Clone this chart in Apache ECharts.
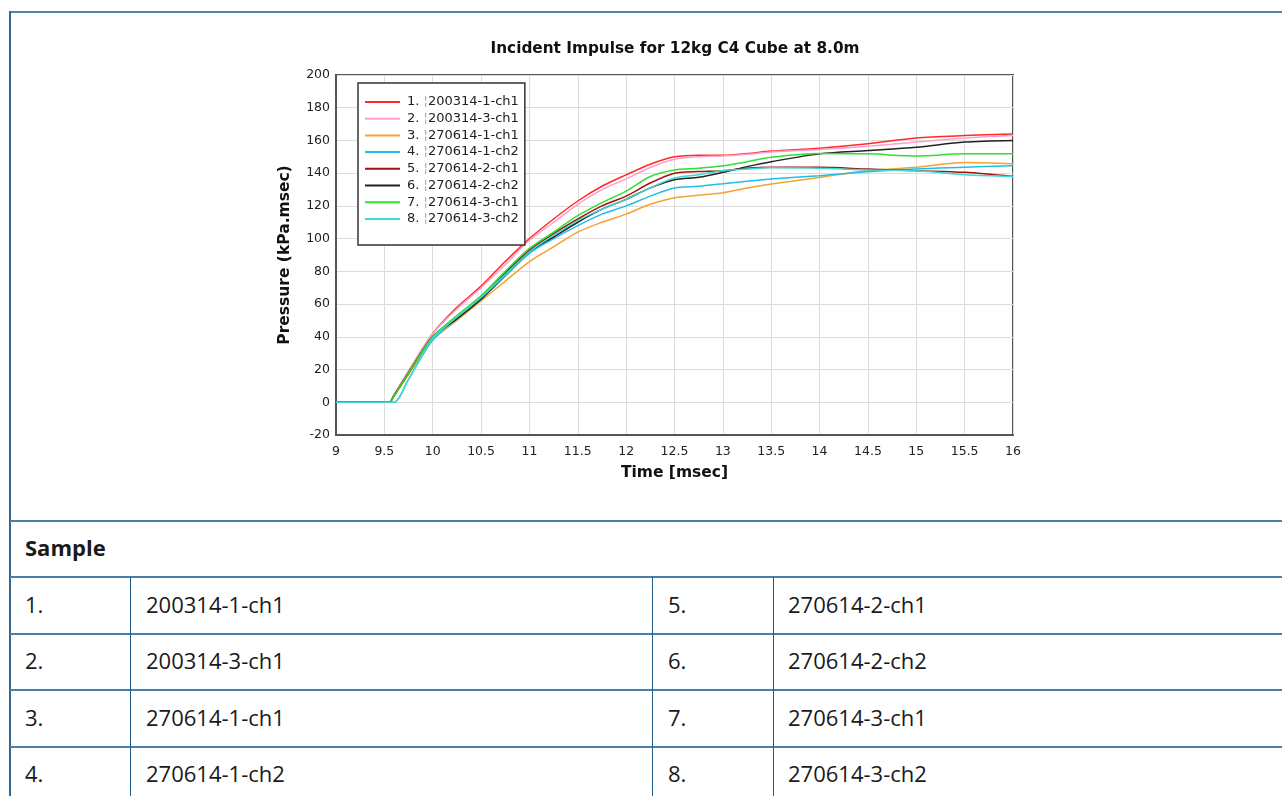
<!DOCTYPE html>
<html>
<head>
<meta charset="utf-8">
<script src="https://cdn.jsdelivr.net/npm/echarts@6/dist/echarts.min.js"></script>
<style>
  html, body { margin: 0; padding: 0; background: #fff; width: 1282px; height: 796px; overflow: hidden; }
  #chart { position: absolute; left: 0; top: 0; width: 1282px; height: 520px; }
  .hl { position: absolute; left: 10px; right: 0; height: 2px; background: #4a7fa3; }
  .vl { position: absolute; width: 1px; background: #1f5b8a; }
  .txt { position: absolute; font-family: "Open Sans", "Noto Sans", sans-serif; font-size: 22px; color: #1a1a1a; line-height: 26px; }
</style>
</head>
<body>
<div class="hl" style="top:11px;left:9px;background:#4d88aa;"></div>
<div class="vl" style="left:9px;top:11px;height:785px;width:2px;background:#2d6792;"></div>
<div class="hl" style="top:520px;"></div>
<div class="hl" style="top:576px;"></div>
<div class="hl" style="top:633px;"></div>
<div class="hl" style="top:689px;"></div>
<div class="hl" style="top:746px;"></div>
<div class="vl" style="left:130px;top:577px;height:219px;"></div>
<div class="vl" style="left:652px;top:577px;height:219px;"></div>
<div class="vl" style="left:773px;top:577px;height:219px;"></div>
<div id="table-text"></div>
<div id="chart"></div>
<script>
// ---- data ----
const sampleNames = ['200314-1-ch1', '200314-3-ch1', '270614-1-ch1', '270614-1-ch2',
                     '270614-2-ch1', '270614-2-ch2', '270614-3-ch1', '270614-3-ch2'];
const times = [9, 9.5, 9.55, 9.6, 9.75, 10, 10.25, 10.5, 10.75, 11, 11.25, 11.5, 11.75, 12,
               12.25, 12.5, 12.75, 13, 13.25, 13.5, 14, 14.5, 15, 15.5, 16];
const s1 = [0, 0, 0, 4.5, 19, 42, 58, 71, 86, 100, 112, 123, 132, 139, 145.5, 150, 151, 151, 152, 153.5, 155.3, 158, 161.5, 163, 164];
const s2 = [0, 0, 0, 4.5, 19, 42, 57, 70, 84, 99, 110, 121, 130, 136.5, 143.5, 148.5, 150, 150.5, 151.5, 153, 154.5, 156.5, 159, 161.5, 163];
const s3 = [0, 0, 0, 4, 17, 38, 50, 62, 74, 86, 95, 104, 110, 115, 121, 125, 126.5, 128, 131, 133.4, 137.4, 141.5, 143.6, 146.5, 145.7];
const s4 = [0, 0, 0, 0, 14, 38, 51, 63, 77, 91, 100, 108, 115, 120, 126, 131, 132, 133.5, 135, 136.4, 138.5, 140.9, 142.6, 143.6, 144.6];
const s5 = [0, 0, 0, 4, 18, 40, 52, 64, 79, 93, 103, 112, 120, 126, 134, 140, 141, 141.5, 143, 143.6, 143.6, 142.5, 141.5, 140.5, 138];
const s6 = [0, 0, 0, 4, 18, 40, 51, 63, 78, 92, 101, 110, 118, 124, 131, 136, 137.5, 140.5, 144, 147, 151.8, 153.8, 155.9, 159, 160];
const s7 = [0, 0, 0, 4, 18, 40, 53, 65, 80, 94, 104, 114, 122, 129, 138, 142, 143, 144.5, 147, 149.7, 152, 151.8, 150.5, 151.8, 151.8];
const s8 = [0, 0, 0, 0, 14, 39, 52, 64, 78, 92, 102, 111, 118, 124, 131, 137, 139, 141.5, 142.6, 143.3, 143, 142, 141.5, 139, 138];
const seriesValues = [s1, s2, s3, s4, s5, s6, s7, s8];
const colors = ['#ff2a2a', '#ff9fcf', '#f5a233', '#22bde6', '#a31212', '#222222', '#2fe02f', '#3fd8d4'];
const xTicks = { min: 9, max: 16, interval: 0.5 };
const yTicks = { min: -20, max: 200, interval: 20 };
const titleText = 'Incident Impulse for 12kg C4 Cube at 8.0m';
const tableHeader = 'Sample';

// ---- table text ----
(function () {
  const holder = document.getElementById('table-text');
  const add = (txt, x, yc, bold) => {
    const d = document.createElement('div');
    d.className = 'txt';
    d.style.left = x + 'px';
    d.style.top = (yc - 13) + 'px';
    if (bold) d.style.fontWeight = '700';
    d.textContent = txt;
    holder.appendChild(d);
  };
  add(tableHeader, 25, 547, true);
  const rowY = [604, 660, 717, 773];
  for (let i = 0; i < 4; i++) {
    add((i + 1) + '.', 25, rowY[i]);
    add(sampleNames[i], 146, rowY[i]);
    add((i + 5) + '.', 668, rowY[i]);
    add(sampleNames[i + 4], 788, rowY[i]);
  }
})();

// ---- chart ----
const chart = echarts.init(document.getElementById('chart'), null, { renderer: 'canvas' });
const font = '"DejaVu Sans", sans-serif';
chart.setOption({
  animation: false,
  title: {
    text: titleText, left: 670, top: 37, textAlign: 'center',
    textStyle: { fontFamily: font, fontSize: 15.3, fontWeight: 'bold', color: '#111' }
  },
  grid: {
    left: 336, top: 75, width: 677, height: 360,
    show: true, borderColor: '#555', borderWidth: 2, backgroundColor: 'transparent'
  },
  legend: {
    orient: 'vertical', left: 358, top: 83,
    backgroundColor: '#fff', borderColor: '#333', borderWidth: 1.5,
    padding: [12, 6, 19, 7], itemGap: 2.7, itemWidth: 35, itemHeight: 2,
    icon: 'rect',
    data: sampleNames,
    formatter: function (name) {
      const i = sampleNames.indexOf(name);
      return '{n|' + (i + 1) + '. }{b|\u00a6}{n|' + name + '}';
    },
    textStyle: {
      fontFamily: font, fontSize: 13, color: '#222', lineHeight: 14, padding: [0, 0, 0, 2],
      rich: {
        n: { fontFamily: font, fontSize: 13, color: '#222', lineHeight: 14 },
        b: { fontFamily: font, fontSize: 13, color: '#aaa', lineHeight: 14 }
      }
    }
  },
  xAxis: {
    type: 'value', min: xTicks.min, max: xTicks.max, interval: xTicks.interval,
    name: 'Time [msec]', nameLocation: 'middle', nameGap: 30,
    nameTextStyle: { fontFamily: font, fontSize: 15.5, fontWeight: 'bold', color: '#111' },
    axisLine: { show: true, onZero: false, lineStyle: { color: '#555', width: 2 } },
    axisTick: { show: false },
    axisLabel: { fontFamily: font, fontSize: 12.5, color: '#222', margin: 10 },
    splitLine: { show: true, lineStyle: { color: '#dcdcdc', width: 1 } }
  },
  yAxis: {
    type: 'value', min: yTicks.min, max: yTicks.max, interval: yTicks.interval,
    name: 'Pressure (kPa.msec)', nameLocation: 'middle', nameGap: 43, nameRotate: 90,
    nameTextStyle: { fontFamily: font, fontSize: 15.5, fontWeight: 'bold', color: '#111' },
    axisLine: { show: true, onZero: false, lineStyle: { color: '#555', width: 2 } },
    axisTick: { show: false },
    axisLabel: { fontFamily: font, fontSize: 12.5, color: '#222', margin: 6 },
    splitLine: { show: true, lineStyle: { color: '#dcdcdc', width: 1 } }
  },
  series: sampleNames.map((name, k) => ({
    name: name, type: 'line', showSymbol: false, symbol: 'none',
    smooth: 0.3,
    lineStyle: { color: colors[k], width: 1.5 },
    itemStyle: { color: colors[k] },
    data: times.map((t, i) => [t, seriesValues[k][i]])
  }))
});
</script>
</body>
</html>
